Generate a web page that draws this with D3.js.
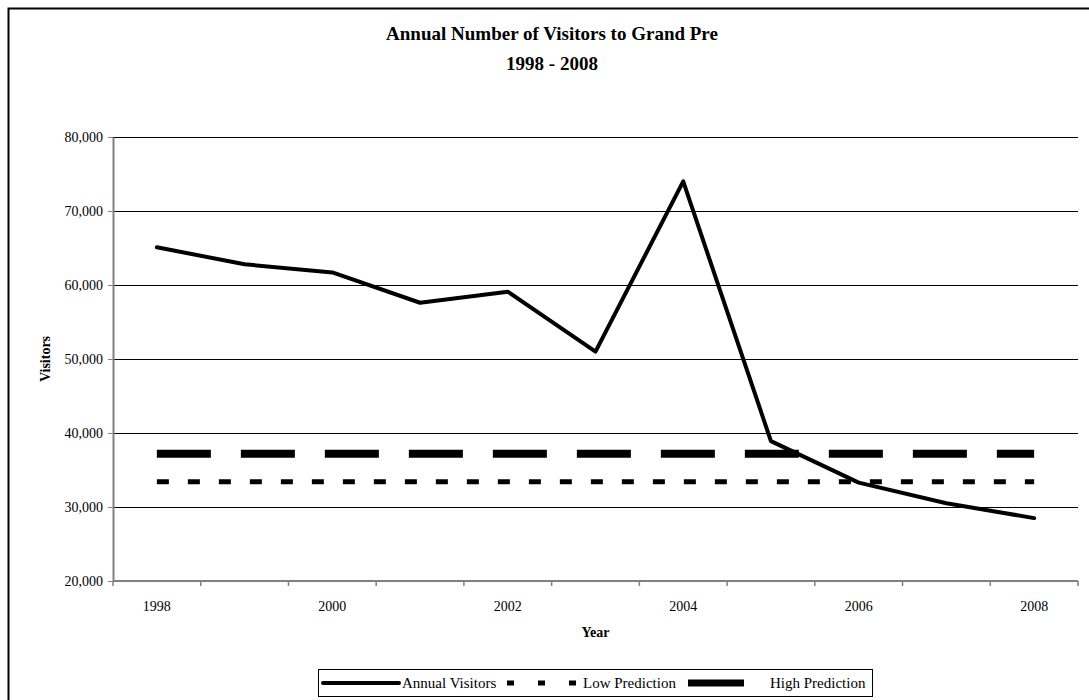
<!DOCTYPE html>
<html>
<head>
<meta charset="utf-8">
<script src="https://cdn.jsdelivr.net/npm/d3@7"></script>
<style>
  html, body { margin: 0; padding: 0; background: #fff; }
  svg { display: block; }
  text { font-family: "Liberation Serif", "Times New Roman", serif; fill: #000; }
</style>
</head>
<body>
<svg id="chart" width="1089" height="700"></svg>
<script>
// Annual visitors to Grand Pre, 1998 - 2008, with the low / high prediction levels
const years = ["1998", "1999", "2000", "2001", "2002", "2003", "2004", "2005", "2006", "2007", "2008"];
const annualVisitors = [65100, 62800, 61700, 57600, 59100, 51000, 74000, 38900, 33300, 30500, 28500];
const lowPrediction = [33400, 33400, 33400, 33400, 33400, 33400, 33400, 33400, 33400, 33400, 33400];
const highPrediction = [37200, 37200, 37200, 37200, 37200, 37200, 37200, 37200, 37200, 37200, 37200];
const yTicks = [20000, 30000, 40000, 50000, 60000, 70000, 80000];
const xLabelYears = ["1998", "2000", "2002", "2004", "2006", "2008"];

const svg = d3.select("#chart");
const plot = { left: 113, right: 1078, top: 137, bottom: 581 };

// outer chart frame
svg.append("rect")
  .attr("x", 8.5).attr("y", 8.5)
  .attr("width", 1095).attr("height", 720)
  .attr("fill", "none").attr("stroke", "#000").attr("stroke-width", 2);

// titles
svg.append("text").attr("x", 552).attr("y", 40)
  .attr("text-anchor", "middle").attr("font-weight", "bold").attr("font-size", 19)
  .text("Annual Number of Visitors to Grand Pre");
svg.append("text").attr("x", 552).attr("y", 70)
  .attr("text-anchor", "middle").attr("font-weight", "bold").attr("font-size", 19)
  .text("1998 - 2008");

const x = d3.scaleBand().domain(years).range([plot.left, plot.right]).padding(0);
const cx = d => x(d) + x.bandwidth() / 2;
const y = d3.scaleLinear().domain([20000, 80000]).range([plot.bottom, plot.top]);

// horizontal gridlines
svg.append("g")
  .selectAll("line")
  .data(yTicks.slice(1))
  .join("line")
  .attr("x1", plot.left).attr("x2", plot.right)
  .attr("y1", d => Math.round(y(d)) + 0.5).attr("y2", d => Math.round(y(d)) + 0.5)
  .attr("stroke", "#000").attr("stroke-width", 1);

// y axis
const yAxis = d3.axisLeft(y)
  .tickValues(yTicks)
  .tickFormat(d3.format(","))
  .tickSizeInner(5).tickSizeOuter(0).tickPadding(5);
const gy = svg.append("g").attr("transform", `translate(${plot.left},0)`).call(yAxis);
gy.select(".domain").attr("stroke", "#808080").attr("stroke-width", 2);
gy.selectAll(".tick line").attr("stroke", "#808080");
gy.selectAll(".tick text").attr("font-size", 14).attr("font-family", "Liberation Serif, serif");

// x axis: ticks on category boundaries, labels on every other category
const gx = svg.append("g").attr("transform", `translate(0,${plot.bottom})`);
gx.append("line").attr("x1", plot.left).attr("x2", plot.right)
  .attr("stroke", "#808080").attr("stroke-width", 2);
const boundaries = years.map(d => x(d)).concat([x(years[years.length - 1]) + x.bandwidth()]);
gx.selectAll("line.tick").data(boundaries).join("line")
  .attr("class", "tick")
  .attr("x1", d => d).attr("x2", d => d).attr("y1", 0).attr("y2", 5)
  .attr("stroke", "#808080").attr("stroke-width", 1.5);
gx.selectAll("text").data(xLabelYears).join("text")
  .attr("x", d => cx(d)).attr("y", 30)
  .attr("text-anchor", "middle").attr("font-size", 14)
  .text(d => d);

// axis titles
svg.append("text").attr("x", (plot.left + plot.right) / 2).attr("y", 637)
  .attr("text-anchor", "middle").attr("font-weight", "bold").attr("font-size", 14)
  .text("Year");
svg.append("text")
  .attr("transform", `translate(50,${(plot.top + plot.bottom) / 2}) rotate(-90)`)
  .attr("text-anchor", "middle").attr("font-weight", "bold").attr("font-size", 14)
  .text("Visitors");

// series
const line = d3.line().x((d, i) => cx(years[i])).y(d => y(d));

svg.append("path").datum(highPrediction)
  .attr("d", line).attr("fill", "none")
  .attr("stroke", "#000").attr("stroke-width", 8)
  .attr("stroke-dasharray", "54 30");

svg.append("path").datum(lowPrediction)
  .attr("d", line).attr("fill", "none")
  .attr("stroke", "#000").attr("stroke-width", 5)
  .attr("stroke-dasharray", "12 19");

svg.append("path").datum(annualVisitors)
  .attr("d", line).attr("fill", "none")
  .attr("stroke", "#000").attr("stroke-width", 4)
  .attr("stroke-linejoin", "round").attr("stroke-linecap", "round");

// legend
const lg = svg.append("g");
lg.append("rect").attr("x", 318.5).attr("y", 669.5).attr("width", 554).attr("height", 27)
  .attr("fill", "#fff").attr("stroke", "#000").attr("stroke-width", 1);
const ly = 683;
lg.append("line").attr("x1", 323).attr("x2", 399).attr("y1", ly).attr("y2", ly)
  .attr("stroke", "#000").attr("stroke-width", 4).attr("stroke-linecap", "round");
lg.append("text").attr("x", 402).attr("y", ly + 5).attr("font-size", 15).text("Annual Visitors");
lg.append("line").attr("x1", 507).attr("x2", 576).attr("y1", ly).attr("y2", ly)
  .attr("stroke", "#000").attr("stroke-width", 5).attr("stroke-dasharray", "7 24");
lg.append("text").attr("x", 583).attr("y", ly + 5).attr("font-size", 15).text("Low Prediction");
lg.append("line").attr("x1", 688).attr("x2", 744).attr("y1", ly).attr("y2", ly)
  .attr("stroke", "#000").attr("stroke-width", 7);
lg.append("text").attr("x", 770).attr("y", ly + 5).attr("font-size", 15).text("High Prediction");
</script>
</body>
</html>
